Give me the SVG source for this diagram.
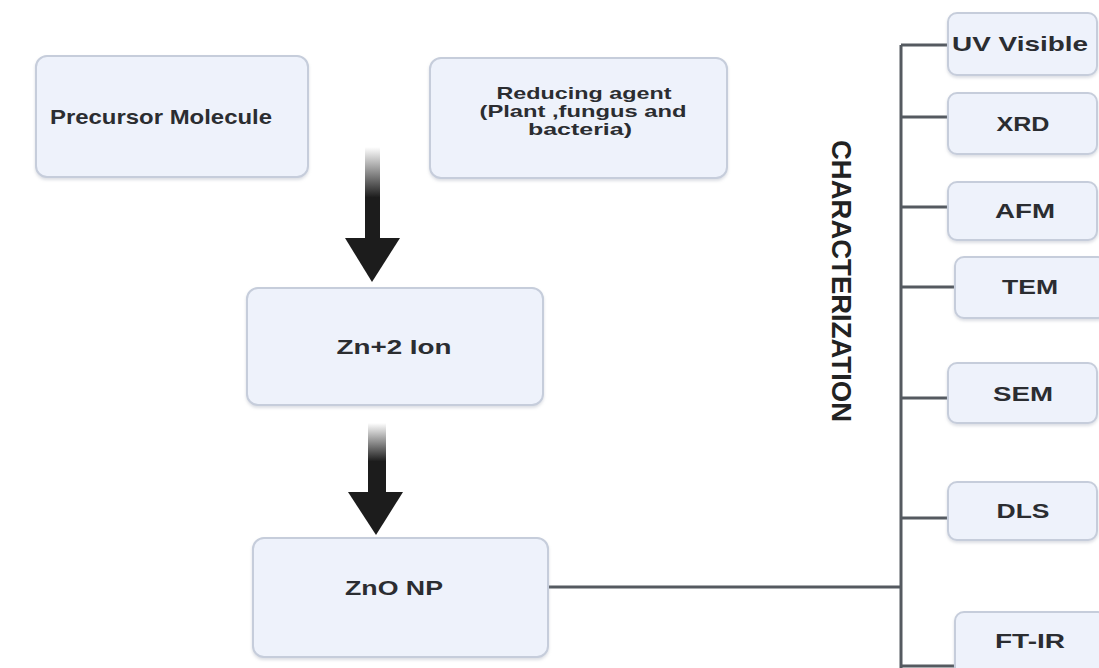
<svg xmlns="http://www.w3.org/2000/svg" width="1099" height="668" viewBox="0 0 1099 668">
  <defs>
    <linearGradient id="shaft" x1="0" y1="0" x2="0" y2="1">
      <stop offset="0" stop-color="#ffffff"/>
      <stop offset="0.55" stop-color="#1c1c1c"/>
      <stop offset="1" stop-color="#1c1c1c"/>
    </linearGradient>
    <filter id="sh" x="-10%" y="-10%" width="120%" height="130%">
      <feDropShadow dx="0" dy="2" stdDeviation="1.5" flood-color="#9aa3b3" flood-opacity="0.35"/>
    </filter>
  </defs>
  <style>
    .box { fill: #eef2fb; stroke: #c6cddb; stroke-width: 2; filter: url(#sh); }
    .lbl { font-family: "Liberation Sans", Arial, sans-serif; font-weight: bold; font-size: 21px; fill: #2b2d31; text-anchor: middle; }
    .sm { font-size: 17px; }
    .conn { stroke: #555a60; stroke-width: 3; fill: none; }
    .arrowhead { fill: #1c1c1c; }
  </style>
  <rect width="1099" height="668" fill="#ffffff"/>

  <g id="connectors">
    <rect x="365" y="147" width="15" height="92" fill="url(#shaft)"/>
    <polygon class="arrowhead" points="345,238 400,238 372,282"/>
    <rect x="368" y="423" width="18" height="70" fill="url(#shaft)"/>
    <polygon class="arrowhead" points="348,492 403,492 376,535"/>
    <path class="conn" d="M548,587 H901"/>
    <path class="conn" d="M901,45 V668"/>
    <path class="conn" d="M901,45 H948"/>
    <path class="conn" d="M901,117 H948"/>
    <path class="conn" d="M901,207 H948"/>
    <path class="conn" d="M901,287 H955"/>
    <path class="conn" d="M901,398 H948"/>
    <path class="conn" d="M901,518 H948"/>
    <path class="conn" d="M901,666 H955"/>
  </g>

  <g id="precursor">
    <rect class="box" x="36" y="56" width="272" height="121" rx="11"/>
    <text class="lbl" x="161" y="124" textLength="222" lengthAdjust="spacingAndGlyphs">Precursor Molecule</text>
  </g>
  <g id="reducing">
    <rect class="box" x="430" y="58" width="297" height="120" rx="11"/>
    <text class="lbl sm" x="584" y="99" textLength="175" lengthAdjust="spacingAndGlyphs">Reducing agent</text>
    <text class="lbl sm" x="583" y="117" textLength="207" lengthAdjust="spacingAndGlyphs">(Plant ,fungus and</text>
    <text class="lbl sm" x="580" y="135" textLength="104" lengthAdjust="spacingAndGlyphs">bacteria)</text>
  </g>
  <g id="zn-ion">
    <rect class="box" x="247" y="288" width="296" height="117" rx="11"/>
    <text class="lbl" x="394" y="354" textLength="115" lengthAdjust="spacingAndGlyphs">Zn+2 Ion</text>
  </g>
  <g id="zno-np">
    <rect class="box" x="253" y="538" width="295" height="119" rx="11"/>
    <text class="lbl" x="394" y="595" textLength="98" lengthAdjust="spacingAndGlyphs">ZnO NP</text>
  </g>

  <g id="characterization">
    <text x="842" y="291" transform="rotate(90 842 281)" font-family="Liberation Sans, Arial, sans-serif" font-weight="bold" font-size="28" fill="#222" text-anchor="middle" textLength="282" lengthAdjust="spacingAndGlyphs">CHARACTERIZATION</text>
  </g>

  <g id="uv-visible">
    <rect class="box" x="948" y="13" width="149" height="62" rx="9"/>
    <text class="lbl" x="1020" y="51" textLength="136" lengthAdjust="spacingAndGlyphs">UV Visible</text>
  </g>
  <g id="xrd">
    <rect class="box" x="948" y="93" width="149" height="61" rx="9"/>
    <text class="lbl" x="1023" y="131" textLength="53" lengthAdjust="spacingAndGlyphs">XRD</text>
  </g>
  <g id="afm">
    <rect class="box" x="948" y="182" width="149" height="58" rx="9"/>
    <text class="lbl" x="1025" y="218" textLength="60" lengthAdjust="spacingAndGlyphs">AFM</text>
  </g>
  <g id="tem">
    <rect class="box" x="955" y="257" width="152" height="61" rx="9"/>
    <text class="lbl" x="1030" y="294" textLength="56" lengthAdjust="spacingAndGlyphs">TEM</text>
  </g>
  <g id="sem">
    <rect class="box" x="948" y="363" width="149" height="60" rx="9"/>
    <text class="lbl" x="1023" y="401" textLength="60" lengthAdjust="spacingAndGlyphs">SEM</text>
  </g>
  <g id="dls">
    <rect class="box" x="948" y="482" width="149" height="58" rx="9"/>
    <text class="lbl" x="1023" y="518" textLength="53" lengthAdjust="spacingAndGlyphs">DLS</text>
  </g>
  <g id="ftir">
    <rect class="box" x="955" y="612" width="152" height="70" rx="9"/>
    <text class="lbl" x="1030" y="648" textLength="70" lengthAdjust="spacingAndGlyphs">FT-IR</text>
  </g>
</svg>
